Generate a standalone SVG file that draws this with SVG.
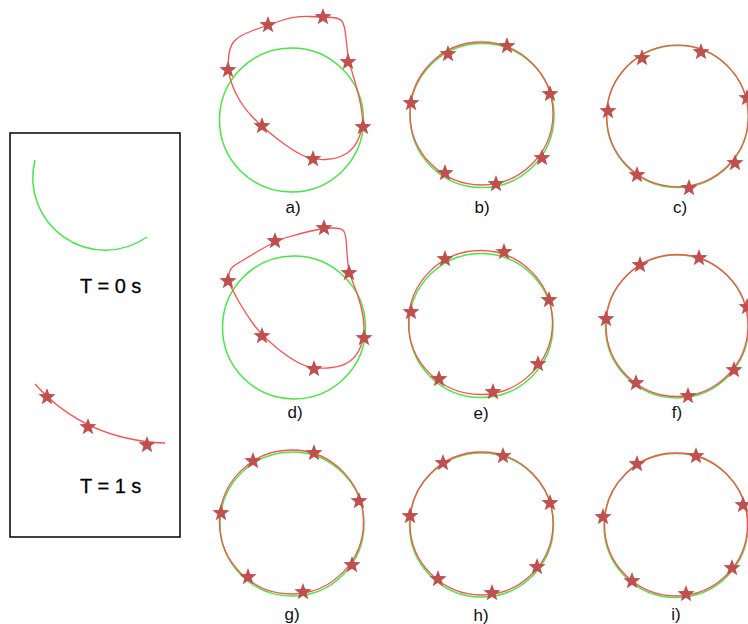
<svg xmlns="http://www.w3.org/2000/svg" xmlns:xlink="http://www.w3.org/1999/xlink" width="748" height="624" viewBox="0 0 748 624">
<defs>
<style>
.g{fill:none;stroke:#45e845;stroke-width:1.5}
.r{fill:none;stroke:#ff4f4f;stroke-width:1.3}
.st{fill:#c0504d}
.lb{font-family:"Liberation Sans",Arial,sans-serif;font-size:17px;fill:#111;text-anchor:middle}
.tl{font-family:"Liberation Sans",Arial,sans-serif;font-size:20px;fill:#000;stroke:#000;stroke-width:0.3}
</style>
<path id="star" class="st" d="M0,-9 L2.23,-3.07 L8.56,-2.78 L3.61,1.17 L5.29,7.28 L0,3.8 L-5.29,7.28 L-3.61,1.17 L-8.56,-2.78 L-2.23,-3.07 Z"/>
</defs>
<rect width="748" height="624" fill="#fff"/>

<g id="legend">
<rect x="10" y="133" width="170" height="404" fill="none" stroke="#111" stroke-width="1.6"/>
<path class="g" d="M35,160 A72.5,72.5 0 0 0 147,237"/>
<text class="tl" x="80" y="293">T = 0 s</text>
<path class="r" d="M35,384 Q85,440 165,443"/>
<use href="#star" x="47" y="397"/>
<use href="#star" x="88" y="427"/>
<use href="#star" x="147" y="445"/>
<text class="tl" x="80" y="493">T = 1 s</text>
</g>

<g id="panel-a">
<circle class="g" cx="291.5" cy="120" r="72"/>
<path class="r" d="M228.5,59 Q229,48 233.5,42 Q238,36 253,30.5 Q268,25 281.5,20.5 Q295,16 309,16.5 Q323,17 332,17.5 Q341,18 343,23 Q345,28 346,38 Q347,48 348,55 Q349,62 353,75 Q357,88 359.5,99 Q362,110 362.5,118.5 Q363,127 359,137.5 Q355,148 346.5,153.5 Q338,159 325.5,159.5 Q313,160 303,155.5 Q293,151 277.5,139 Q262,127 252.5,117 Q243,107 237.5,96.5 Q232,86 230,78 Q228,70 228.5,59 Z"/>
<use href="#star" x="228" y="70"/>
<use href="#star" x="268" y="25"/>
<use href="#star" x="323" y="17"/>
<use href="#star" x="348" y="62"/>
<use href="#star" x="363" y="127"/>
<use href="#star" x="313" y="159"/>
<use href="#star" x="262" y="126"/>
<text class="lb" x="293" y="213">a)</text>
</g>

<g id="panel-b">
<circle class="g" cx="482" cy="115.5" r="72"/>
<circle class="r" cx="481.5" cy="113.5" r="71.5"/>
<use href="#star" x="448" y="54"/>
<use href="#star" x="507" y="46"/>
<use href="#star" x="550" y="94"/>
<use href="#star" x="411" y="103"/>
<use href="#star" x="542" y="158"/>
<use href="#star" x="445" y="173"/>
<use href="#star" x="496" y="184"/>
<text class="lb" x="482" y="213">b)</text>
</g>

<g id="panel-c">
<circle class="g" cx="677.5" cy="116.5" r="71"/>
<circle class="r" cx="677.5" cy="116" r="70.8"/>
<use href="#star" x="642" y="58"/>
<use href="#star" x="701" y="52"/>
<use href="#star" x="747" y="98"/>
<use href="#star" x="608" y="111"/>
<use href="#star" x="735" y="163"/>
<use href="#star" x="637" y="175"/>
<use href="#star" x="689" y="188"/>
<text class="lb" x="680" y="213">c)</text>
</g>

<g id="panel-d">
<circle class="g" cx="294" cy="327.5" r="71.5"/>
<path class="r" d="M229,274.5 Q230,268 235,265 Q240,262 257.5,251.5 Q275,241 286.5,237.5 Q298,234 311,231 Q324,228 333,228 Q342,228 344,231.5 Q346,235 346.5,245 Q347,255 348,264 Q349,273 353.5,284 Q358,295 361,306.5 Q364,318 364,328 Q364,338 360.5,347 Q357,356 349.5,361.5 Q342,367 328,368 Q314,369 303.5,365 Q293,361 277.5,348.5 Q262,336 254,325 Q246,314 240,303.5 Q234,293 231,287 Q228,281 229,274.5 Z"/>
<use href="#star" x="228" y="281"/>
<use href="#star" x="275" y="241"/>
<use href="#star" x="324" y="228"/>
<use href="#star" x="349" y="273"/>
<use href="#star" x="364" y="338"/>
<use href="#star" x="314" y="369"/>
<use href="#star" x="262" y="336"/>
<text class="lb" x="295" y="418">d)</text>
</g>

<g id="panel-e">
<circle class="g" cx="481" cy="325.5" r="72"/>
<circle class="r" cx="480.5" cy="322.5" r="72"/>
<use href="#star" x="445" y="259"/>
<use href="#star" x="504" y="252"/>
<use href="#star" x="549" y="300"/>
<use href="#star" x="411" y="312"/>
<use href="#star" x="538" y="364"/>
<use href="#star" x="439" y="379"/>
<use href="#star" x="493" y="392"/>
<text class="lb" x="481" y="419">e)</text>
</g>

<g id="panel-f">
<circle class="g" cx="677" cy="326.5" r="71.5"/>
<circle class="r" cx="677" cy="325.5" r="71"/>
<use href="#star" x="640" y="265"/>
<use href="#star" x="699" y="258"/>
<use href="#star" x="747" y="307"/>
<use href="#star" x="606" y="319"/>
<use href="#star" x="734" y="370"/>
<use href="#star" x="636" y="383"/>
<use href="#star" x="688" y="396"/>
<text class="lb" x="677" y="418">f)</text>
</g>

<g id="panel-g">
<circle class="g" cx="292" cy="524" r="72"/>
<circle class="r" cx="291.5" cy="522" r="72"/>
<use href="#star" x="253" y="461"/>
<use href="#star" x="314" y="453"/>
<use href="#star" x="359" y="501"/>
<use href="#star" x="221" y="513"/>
<use href="#star" x="352" y="565"/>
<use href="#star" x="248" y="577"/>
<use href="#star" x="303" y="592"/>
<text class="lb" x="292" y="620">g)</text>
</g>

<g id="panel-h">
<circle class="g" cx="481.5" cy="525" r="72"/>
<circle class="r" cx="481.5" cy="523.5" r="71.5"/>
<use href="#star" x="443" y="463"/>
<use href="#star" x="503" y="456"/>
<use href="#star" x="550" y="503"/>
<use href="#star" x="410" y="516"/>
<use href="#star" x="537" y="567"/>
<use href="#star" x="438" y="579"/>
<use href="#star" x="492" y="593"/>
<text class="lb" x="481" y="621">h)</text>
</g>

<g id="panel-i">
<circle class="g" cx="676" cy="525.5" r="72"/>
<circle class="r" cx="676" cy="524.5" r="71.5"/>
<use href="#star" x="637" y="464"/>
<use href="#star" x="696" y="456"/>
<use href="#star" x="743" y="505"/>
<use href="#star" x="603" y="517"/>
<use href="#star" x="732" y="568"/>
<use href="#star" x="632" y="581"/>
<use href="#star" x="686" y="594"/>
<text class="lb" x="676" y="620">i)</text>
</g>
</svg>
